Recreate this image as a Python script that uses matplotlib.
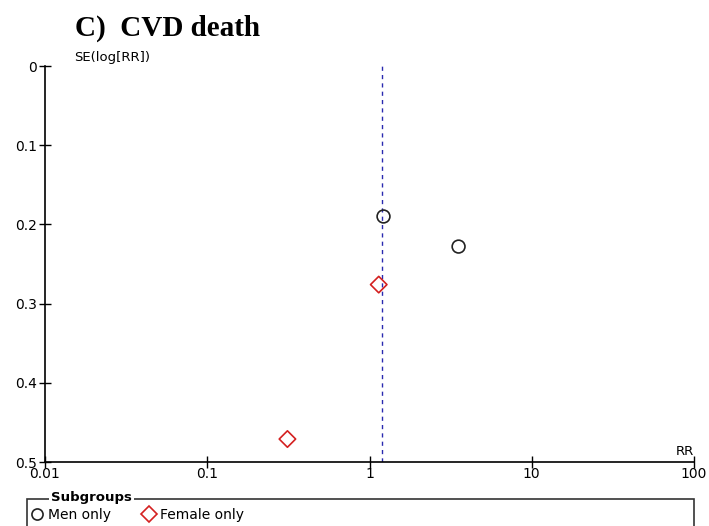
import numpy as np
import matplotlib.pyplot as plt
from matplotlib.patches import Rectangle
from matplotlib.lines import Line2D

# data
men_rr = [1.22, 3.54]
men_se = [0.190, 0.228]
female_rr = [1.14, 0.312]
female_se = [0.276, 0.471]
pooled_rr = 1.20
x_ticks = [0.01, 0.1, 1, 10, 100]
x_tick_labels = ['0.01', '0.1', '1', '10', '100']
y_ticks = [0, 0.1, 0.2, 0.3, 0.4, 0.5]
y_tick_labels = ['0', '0.1', '0.2', '0.3', '0.4', '0.5']

fig = plt.figure(figsize = (7.09, 5.26), dpi = 100)
ax = fig.add_axes([45 / 709, 1 - 462 / 526, (694 - 45) / 709, (462 - 66) / 526])

ax.scatter(men_rr, men_se, marker = 'o', s = 85, facecolors = 'none', edgecolors = '#222222', linewidths = 1.2, zorder = 3)
ax.scatter(female_rr, female_se, marker = 'D', s = 70, facecolors = 'none', edgecolors = '#d42020', linewidths = 1.2, zorder = 3)
ax.axvline(pooled_rr, color = '#2a2ab0', linewidth = 1, linestyle = (0, (3, 3)))

ax.set_xscale('log')
ax.set_xlim(0.01, 100)
ax.set_ylim(0.5, 0)
ax.set_xticks(x_ticks)
ax.set_xticklabels(x_tick_labels)
ax.set_yticks(y_ticks)
ax.set_yticklabels(y_tick_labels)
ax.minorticks_off()
ax.spines['top'].set_visible(False)
ax.spines['right'].set_visible(False)
ax.tick_params(axis = 'both', direction = 'inout', length = 9, width = 1, labelsize = 10)
ax.tick_params(axis = 'x', pad = -1)
ax.tick_params(axis = 'y', pad = 1)
for s in ['left', 'bottom']:
    ax.spines[s].set_linewidth(1.2)

ax.text(0.045, -0.003, 'SE(log[RR])', transform = ax.get_yaxis_transform(), fontsize = 9.5, va = 'bottom', ha = 'left')
ax.text(1.0, 0.01, 'RR', transform = ax.transAxes, fontsize = 9.5, va = 'bottom', ha = 'right')

fig.text(75 / 709, 1 - 28 / 526, 'C)  CVD death', fontsize = 21, fontweight = 'bold',
         family = 'Liberation Serif', va = 'center', ha = 'left')

# legend box
fig.add_artist(Rectangle((27 / 709, -0.05), (694 - 27) / 709, 0.05 + (526 - 499) / 526,
                         transform = fig.transFigure, fill = False, edgecolor = '#333333', linewidth = 1.2))
fig.text(51 / 709, 1 - 498 / 526, 'Subgroups', fontsize = 9.5, fontweight = 'bold', va = 'center', ha = 'left',
         bbox = dict(facecolor = 'white', edgecolor = 'none', pad = 1.5))
handles = [Line2D([], [], marker = 'o', linestyle = 'none', markersize = 8, markerfacecolor = 'none',
                  markeredgecolor = '#222222', markeredgewidth = 1.2),
           Line2D([], [], marker = 'D', linestyle = 'none', markersize = 8.5, markerfacecolor = 'none',
                  markeredgecolor = '#d42020', markeredgewidth = 1.2)]
fig.legend(handles, ['Men only', 'Female only'], loc = 'center left', bbox_to_anchor = (23 / 709, 1 - 515 / 526),
           ncol = 2, frameon = False, fontsize = 10, handlelength = 1, handletextpad = 0.3, columnspacing = 2.2,
           borderpad = 0)

plt.savefig('out.png', dpi = 100)
